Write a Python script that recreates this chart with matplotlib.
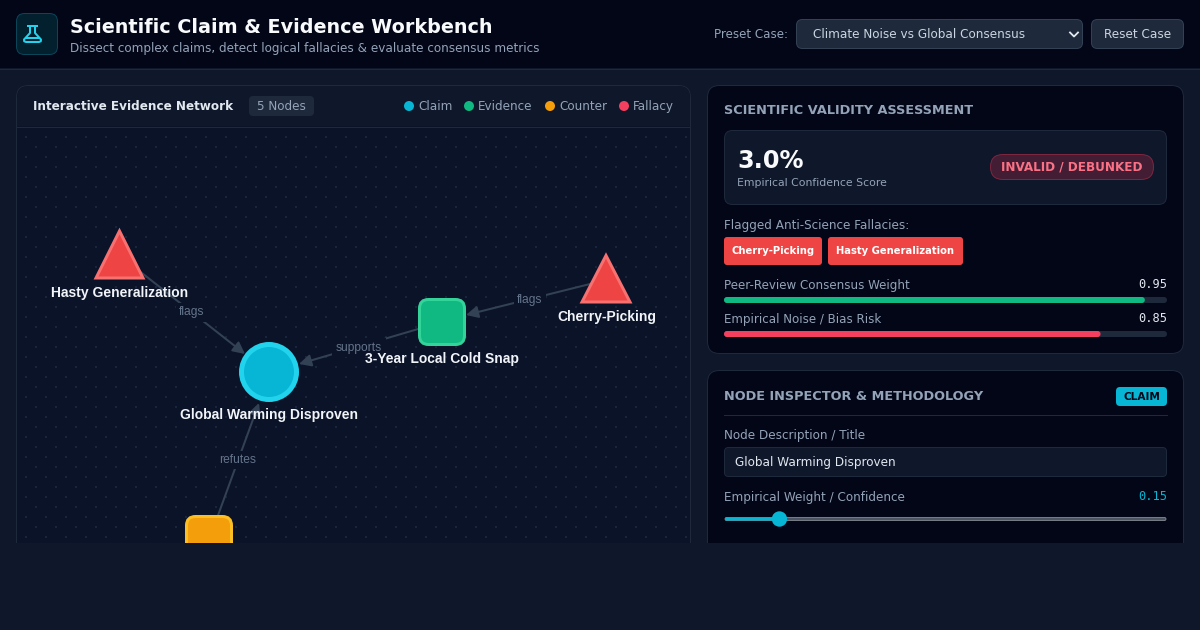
#!/usr/bin/python
# -*- coding: utf-8 -*-
# evidence workbench screenshot, everything placed in page pixels

import numpy as np
import matplotlib as mpl
mpl.use('Agg')
from matplotlib import pyplot as plt
from matplotlib.patches import FancyBboxPatch, Rectangle, Circle, Polygon

# data
nodeNames = ['Global Warming Disproven', '3-Year Local Cold Snap', 'Cherry-Picking',
             'Hasty Generalization']
edgeLabels = ['flags', 'supports', 'flags', 'refutes']
legendNames = ['Claim', 'Evidence', 'Counter', 'Fallacy']
fallacyChips = ['Cherry-Picking', 'Hasty Generalization']
metricNames = ['Peer-Review Consensus Weight', 'Empirical Noise / Bias Risk']
metricValues = [0.95, 0.85]
scoreText = '3.0%'
weightValue = 0.15
weightMin = 0.05
weightMax = 0.95

# colours
pColors = {'page': '#0f172a', 'dark': '#020617', 'line': '#1e293b', 'canvas': '#0b1328',
           'edge': '#334155', 'grey': '#94a3b8', 'light': '#e2e8f0', 'white': '#f8fafc',
           'soft': '#cbd5e1', 'cyan': '#06b6d4', 'green': '#10b981', 'amber': '#f59e0b',
           'rose': '#f43f5e', 'red': '#ef4444'}
legendColors = [pColors['cyan'], pColors['green'], pColors['amber'], pColors['rose']]
metricColors = [pColors['green'], pColors['rose']]

UI = 'DejaVu Sans'
MONO = 'DejaVu Sans Mono'
NET = 'Liberation Sans'

f = plt.figure(figsize = (12.0, 6.3), dpi = 100, facecolor = pColors['page'])
ax = f.add_axes([0, 0, 1, 1])
ax.set_xlim(0, 1200)
ax.set_ylim(630, 0)
ax.axis('off')


def box(x0, y0, x1, y1, r, fc, ec = 'none', lw = 1.0, zorder = 2):
    p = FancyBboxPatch((x0, y0), x1 - x0, y1 - y0,
                       boxstyle = 'round,pad=0,rounding_size=%g' % r,
                       fc = fc, ec = ec, lw = lw * 0.72, zorder = zorder)
    ax.add_patch(p)
    return p


def label(x, y, s, px, color, weight = 'normal', ha = 'left', family = UI, zorder = 5, **kw):
    # size is given in css pixels
    return ax.text(x, y, s, fontsize = px * 0.72, color = color, fontweight = weight,
                   ha = ha, va = 'center_baseline', family = family, zorder = zorder, **kw)


######################################################################################
# header
ax.add_patch(Rectangle((0, 0), 1200, 68, fc = pColors['dark'], ec = 'none', zorder = 1))
ax.plot([0, 1200], [68.5, 68.5], color = pColors['line'], lw = 0.72, zorder = 2)
box(16.5, 13.5, 57.5, 54.5, 8, '#03202f', '#0b4558')

flaskX = [30.0, 30.0, 24.0, 24.2, 26.0, 39.0, 40.8, 41.0, 35.0, 35.0]
flaskY = [26.0, 33.0, 39.5, 41.3, 42.0, 42.0, 41.3, 39.5, 33.0, 26.0]
ax.plot(flaskX, flaskY, color = '#22d3ee', lw = 1.45, solid_joinstyle = 'round', zorder = 5)
ax.plot([28.0, 37.0], [26.0, 26.0], color = '#22d3ee', lw = 1.45, zorder = 5)
ax.plot([26.5, 38.5], [37.5, 37.5], color = '#22d3ee', lw = 1.45, zorder = 5)

label(70, 25.5, 'Scientific Claim & Evidence Workbench', 19.2, pColors['white'], 'bold')
label(70, 47, 'Dissect complex claims, detect logical fallacies & evaluate consensus metrics',
      12.03, pColors['grey'])

label(714, 33, 'Preset Case:', 11.9, pColors['grey'])
box(796.5, 19.5, 1082.5, 48.5, 6, pColors['line'], pColors['edge'])
label(813, 33, 'Climate Noise vs Global Consensus', 12, pColors['soft'])
ax.plot([1070, 1074, 1078], [32.5, 36.5, 32.5], color = pColors['light'], lw = 1.3, zorder = 5)
box(1091.5, 19.5, 1183.5, 48.5, 6, pColors['line'], pColors['edge'])
label(1137.5, 33, 'Reset Case', 12, pColors['soft'], ha = 'center')

######################################################################################
# network panel
box(16.5, 85.5, 690.5, 620, 12, pColors['canvas'], pColors['line'])
box(17, 86, 690, 120, 12, pColors['page'], zorder = 2)
ax.add_patch(Rectangle((17, 105), 673, 21, fc = pColors['page'], ec = 'none', zorder = 2))
ax.plot([17, 690], [126.5, 126.5], color = pColors['line'], lw = 0.72, zorder = 3)

# staggered dot texture of the canvas
for top, left in [(137, 26), (147, 36)]:
    gx, gy = np.meshgrid(np.arange(left, 690, 20), np.arange(top, 560, 20))
    ax.scatter(gx.ravel(), gy.ravel(), s = 2.0, marker = 's', color = '#1a243a', lw = 0, zorder = 2.5)

label(33, 105, 'Interactive Evidence Network', 12.0, pColors['light'], 'bold')
box(249, 96, 314, 116, 4, pColors['line'])
label(281.5, 105, '5 Nodes', 12, pColors['grey'], ha = 'center')

legendDotX = [409, 469, 550, 624]
for x, name, col in zip(legendDotX, legendNames, legendColors):
    ax.add_patch(Circle((x, 106), 5, fc = col, ec = 'none', zorder = 5))
    label(x + 9, 105, name, 12, pColors['grey'])

# edges: start, arrow tip, label position
edgeStart = [(119, 255), (442, 322), (606, 280), (209, 540)]
edgeTip = [(245, 354), (299, 364), (466, 315), (259, 403)]
edgeText = [(192, 311), (359, 346), (530, 298), (237.5, 458.5)]
for s, t, pos, name in zip(edgeStart, edgeTip, edgeText, edgeLabels):
    ax.annotate('', xy = t, xytext = s, zorder = 3,
                arrowprops = dict(arrowstyle = '-|>,head_length=0.72,head_width=0.36',
                                  color = pColors['edge'], lw = 1.45,
                                  shrinkA = 0, shrinkB = 0))
    label(pos[0], pos[1], name, 12, '#64748b', ha = 'center', family = NET, zorder = 4,
          bbox = dict(fc = pColors['canvas'], ec = 'none', pad = 2.5))

# nodes
ax.add_patch(Circle((269, 372), 27.5, fc = pColors['cyan'], ec = '#22d3ee', lw = 5 * 0.72, zorder = 4))
box(419.5, 299.5, 464.5, 344.5, 9, pColors['green'], '#34d399', 3, zorder = 4)
box(186.5, 516.5, 231.5, 600, 9, pColors['amber'], '#fbbf24', 3, zorder = 4)
ax.add_patch(Polygon([(119.5, 231), (96, 278), (143, 278)], closed = True, fc = pColors['red'],
                     ec = '#f87171', lw = 3 * 0.72, joinstyle = 'miter', zorder = 4))
ax.add_patch(Polygon([(606, 255.5), (582, 302), (630, 302)], closed = True, fc = pColors['red'],
                     ec = '#f87171', lw = 3 * 0.72, joinstyle = 'miter', zorder = 4))

nodeLabelPos = [(269, 414), (442, 358), (606.5, 316), (119.5, 292)]
for pos, name in zip(nodeLabelPos, nodeNames):
    label(pos[0], pos[1], name, 13.95, '#f1f5f9', 'bold', ha = 'center', family = NET)

######################################################################################
# validity panel
box(707.5, 85.5, 1183.5, 353.5, 12, pColors['dark'], pColors['line'])
label(724, 109, 'SCIENTIFIC VALIDITY ASSESSMENT', 12.95, pColors['grey'], 'bold')

box(724.5, 130.5, 1166.5, 204.5, 8, pColors['page'], pColors['line'])
label(737, 158, scoreText, 24, pColors['white'], 'bold')
label(737, 181.5, 'Empirical Confidence Score', 10.9, pColors['grey'])
box(990.5, 154.5, 1153.5, 179.5, 12.5, '#431d33', '#7c2640')
label(1072, 166, 'INVALID / DEBUNKED', 12, '#fb7185', 'bold', ha = 'center')

label(724, 224, 'Flagged Anti-Science Fallacies:', 12, pColors['grey'])
chipX = [(724, 822), (828, 963)]
for (x0, x1), name in zip(chipX, fallacyChips):
    box(x0, 237, x1, 265, 3, pColors['red'])
    label((x0 + x1) / 2.0, 250, name, 10, 'white', 'bold', ha = 'center')

trackX0, trackX1 = 724, 1167
metricTop = [297, 331]
for top, name, val, col in zip(metricTop, metricNames, metricValues, metricColors):
    label(724, top - 13, name, 11.95, pColors['grey'])
    label(1167, top - 14, '%.2f' % val, 12, pColors['light'], ha = 'right', family = MONO)
    box(trackX0, top, trackX1, top + 6, 3, pColors['line'])
    box(trackX0, top, trackX0 + (trackX1 - trackX0) * val, top + 6, 3, col, zorder = 3)

######################################################################################
# inspector panel
box(707.5, 370.5, 1183.5, 620, 12, pColors['dark'], pColors['line'])
label(724, 395, 'NODE INSPECTOR & METHODOLOGY', 12.95, pColors['grey'], 'bold')
box(1116, 387, 1167, 406, 4, pColors['cyan'])
label(1141.5, 395.5, 'CLAIM', 10.5, pColors['dark'], 'bold', ha = 'center')
ax.plot([724, 1167], [414.5, 414.5], color = pColors['line'], lw = 0.72, zorder = 3)

label(724, 434, 'Node Description / Title', 12, pColors['grey'])
box(724.5, 447.5, 1166.5, 476.5, 4, pColors['page'], pColors['line'])
label(735, 461, nodeNames[0], 12, pColors['light'])

label(724, 496, 'Empirical Weight / Confidence', 12, pColors['grey'])
label(1167, 495, '%.2f' % weightValue, 12, pColors['cyan'], ha = 'right', family = MONO)

# range input: thumb centre travels between the two inner edges
thumbX = 732 + (weightValue - weightMin) / (weightMax - weightMin) * (1159 - 732)
box(725, 517.5, 1166, 520.5, 1.5, '#4b5563', '#8b8f96', 0.8, zorder = 3)
box(725, 517.5, thumbX, 520.5, 1.5, pColors['cyan'], zorder = 3.5)
ax.add_patch(Circle((thumbX, 519), 7.7, fc = pColors['cyan'], ec = 'none', zorder = 5))

######################################################################################
# screenshot stops here
ax.add_patch(Rectangle((0, 543), 1200, 87, fc = pColors['page'], ec = 'none', zorder = 20))

f.savefig('out.png', dpi = 100, facecolor = pColors['page'])
plt.close()
